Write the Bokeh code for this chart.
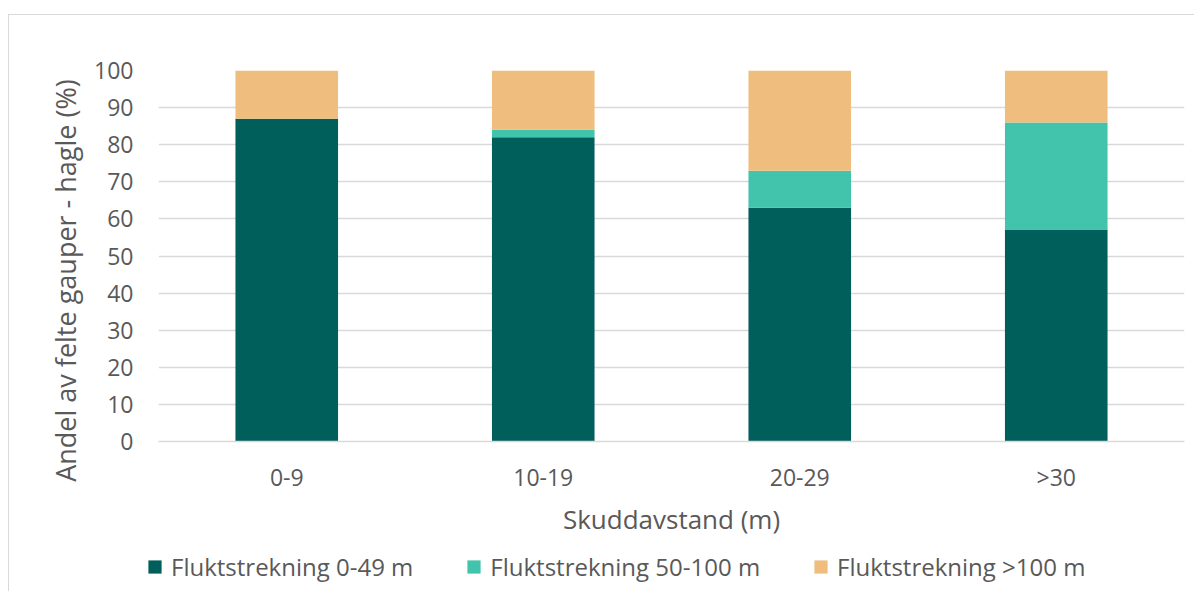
from bokeh.plotting import figure
from bokeh.models import ColumnDataSource, Legend, LegendItem, FactorRange, Range1d, SingleIntervalTicker
from bokeh.embed import file_html
from bokeh.resources import INLINE

categories = ["0-9", "10-19", "20-29", ">30"]
series_names = ["Fluktstrekning 0-49 m", "Fluktstrekning 50-100 m", "Fluktstrekning >100 m"]
s_0_49 = [87, 82, 63, 57]
s_50_100 = [0, 2, 10, 29]
s_100 = [13, 16, 27, 14]
colors = ["#005e5b", "#41c3ac", "#efbe7e"]

FONT = "Open Sans"
TXT = "#595959"
GRID = "#d9d9d9"

source = ColumnDataSource(dict(cat=categories, a=s_0_49, b=s_50_100, c=s_100))

# ---------------- main chart ----------------
p = figure(x_range=FactorRange(*categories, range_padding=0), y_range=Range1d(0, 100),
           width=1194, height=545, output_backend="svg", toolbar_location=None,
           min_border_left=158, min_border_right=10, min_border_top=70, min_border_bottom=104)
p.border_fill_color = None
p.background_fill_color = "white"
p.styles = {
    "background": f"linear-gradient({GRID},{GRID}) 8px 14px / 1px 100% no-repeat, "
                  f"linear-gradient({GRID},{GRID}) 8px 14px / 100% 1px no-repeat, white"
}

p.vbar_stack(["a", "b", "c"], x="cat", width=0.4, source=source,
             color=colors, line_color=None)

p.outline_line_color = None
p.xgrid.grid_line_color = None
p.ygrid.grid_line_color = GRID
p.ygrid.grid_line_width = 1.3

p.yaxis.ticker = SingleIntervalTicker(interval=10)
p.yaxis.axis_line_color = None
p.yaxis.major_tick_line_color = None
p.yaxis.minor_tick_line_color = None
p.yaxis.major_label_text_font = FONT
p.yaxis.major_label_text_font_size = "23px"
p.yaxis.major_label_text_color = TXT
p.yaxis.major_label_standoff = 19
# trailing no-break spaces shift the centred title slightly downwards, as in the original
p.yaxis.axis_label = "Andel av felte gauper - hagle  (%)" + "\u00a0" * 6
p.yaxis.axis_label_text_font = FONT
p.yaxis.axis_label_text_font_size = "27px"
p.yaxis.axis_label_text_font_style = "normal"
p.yaxis.axis_label_text_color = TXT
p.yaxis.axis_label_standoff = 7

p.xaxis.axis_line_color = GRID
p.xaxis.axis_line_width = 1.5
p.xaxis.major_tick_line_color = None
p.xaxis.minor_tick_line_color = None
p.xaxis.major_label_text_font = FONT
p.xaxis.major_label_text_font_size = "23px"
p.xaxis.major_label_text_color = TXT
p.xaxis.major_label_standoff = 13
p.xaxis.axis_label = "Skuddavstand (m)"
p.xaxis.axis_label_text_font = FONT
p.xaxis.axis_label_text_font_size = "26px"
p.xaxis.axis_label_text_font_style = "normal"
p.xaxis.axis_label_text_color = TXT
p.xaxis.axis_label_standoff = 5

# ---------------- legend strip (separate root, not frame-aligned) ----------------
p2 = figure(x_range=FactorRange(*categories), y_range=Range1d(-2, -1),
            width=1194, height=46, output_backend="svg", toolbar_location=None,
            x_axis_type=None, y_axis_type=None, min_border=0,
            min_border_left=0, min_border_right=0, min_border_top=0, min_border_bottom=0)
p2.border_fill_color = None
p2.background_fill_color = None
p2.outline_line_color = None
p2.grid.visible = False
p2.styles = {"background": f"linear-gradient({GRID},{GRID}) 8px 0 / 1px 100% no-repeat, white"}

swatches = [p2.scatter(x="cat", y=col, source=source, marker="square",
                       fill_color=c, line_color=None)
            for col, c in zip(["a", "b", "c"], colors)]

items = [LegendItem(label=n, renderers=[r]) for n, r in zip(series_names, swatches)]
legend = Legend(items=items, orientation="horizontal", location=(138, 8),
                glyph_width=33, glyph_height=33, label_standoff=0, spacing=44,
                padding=0, margin=0, border_line_color=None, background_fill_alpha=0,
                label_text_font=FONT, label_text_font_size="24px", label_text_color=TXT)
p2.add_layout(legend, "center")

open("out.html", "w").write(file_html([p, p2], INLINE))
